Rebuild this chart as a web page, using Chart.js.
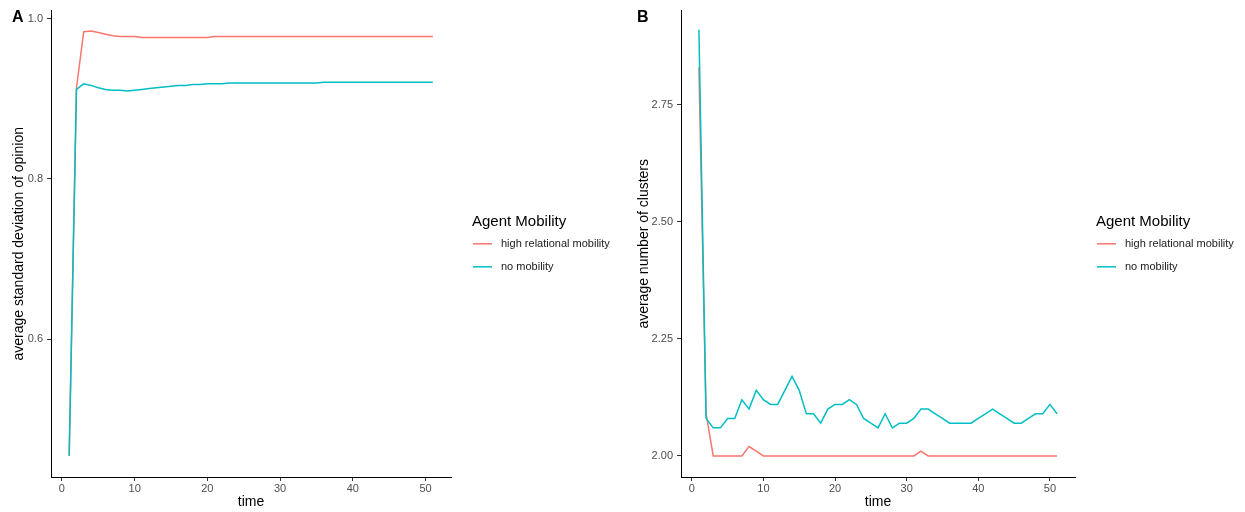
<!DOCTYPE html>
<html>
<head>
<meta charset="utf-8">
<script src="https://cdn.jsdelivr.net/npm/chart.js@4"></script>
<style>
  body { margin: 0; background: #fff; }
  .panel { position: absolute; top: 0; }
</style>
</head>
<body>
<div class="panel" style="left:0px"><canvas id="chartA" width="640" height="512"></canvas></div>
<div class="panel" style="left:625px"><canvas id="chartB" width="620" height="512"></canvas></div>
<script>
// values
const time = [1, 2, 3, 4, 5, 6, 7, 8, 9, 10, 11, 12, 13, 14, 15, 16, 17, 18, 19, 20,
    21, 22, 23, 24, 25, 26, 27, 28, 29, 30, 31, 32, 33, 34, 35, 36, 37, 38, 39, 40,
    41, 42, 43, 44, 45, 46, 47, 48, 49, 50, 51];

const seriesNames = ["high relational mobility", "no mobility"];
const seriesColors = ["#F8766D", "#00BFC4"];

const sdHigh = [0.454, 0.914, 0.984, 0.985, 0.983, 0.981, 0.979, 0.978, 0.978, 0.978,
    0.977, 0.977, 0.977, 0.977, 0.977, 0.977, 0.977, 0.977, 0.977, 0.977,
    0.978, 0.978, 0.978, 0.978, 0.978, 0.978, 0.978, 0.978, 0.978, 0.978,
    0.978, 0.978, 0.978, 0.978, 0.978, 0.978, 0.978, 0.978, 0.978, 0.978,
    0.978, 0.978, 0.978, 0.978, 0.978, 0.978, 0.978, 0.978, 0.978, 0.978, 0.978];
const sdNone = [0.454, 0.912, 0.919, 0.917, 0.914, 0.912, 0.911, 0.911, 0.910, 0.911,
    0.912, 0.913, 0.914, 0.915, 0.916, 0.917, 0.917, 0.918, 0.918, 0.919,
    0.919, 0.919, 0.920, 0.920, 0.920, 0.920, 0.920, 0.920, 0.920, 0.920,
    0.920, 0.920, 0.920, 0.920, 0.920, 0.921, 0.921, 0.921, 0.921, 0.921,
    0.921, 0.921, 0.921, 0.921, 0.921, 0.921, 0.921, 0.921, 0.921, 0.921, 0.921];

const clHigh = [2.83, 2.09, 2.00, 2.00, 2.00, 2.00, 2.00, 2.02, 2.01, 2.00,
    2.00, 2.00, 2.00, 2.00, 2.00, 2.00, 2.00, 2.00, 2.00, 2.00,
    2.00, 2.00, 2.00, 2.00, 2.00, 2.00, 2.00, 2.00, 2.00, 2.00,
    2.00, 2.01, 2.00, 2.00, 2.00, 2.00, 2.00, 2.00, 2.00, 2.00,
    2.00, 2.00, 2.00, 2.00, 2.00, 2.00, 2.00, 2.00, 2.00, 2.00, 2.00];
const clNone = [2.91, 2.08, 2.06, 2.06, 2.08, 2.08, 2.12, 2.10, 2.14, 2.12,
    2.11, 2.11, 2.14, 2.17, 2.14, 2.09, 2.09, 2.07, 2.10, 2.11,
    2.11, 2.12, 2.11, 2.08, 2.07, 2.06, 2.09, 2.06, 2.07, 2.07,
    2.08, 2.10, 2.10, 2.09, 2.08, 2.07, 2.07, 2.07, 2.07, 2.08,
    2.09, 2.10, 2.09, 2.08, 2.07, 2.07, 2.08, 2.09, 2.09, 2.11, 2.09];

const xTicks = [0, 10, 20, 30, 40, 50];
const yTicksA = [0.6, 0.8, 1.0];
const yTicksB = [2.00, 2.25, 2.50, 2.75];

const FONT = "'Liberation Sans', Arial, sans-serif";

// legend + panel tag, drawn the ggplot way
const ggExtras = {
    id: "ggExtras",
    afterDraw(chart, args, opts) {
        const ctx = chart.ctx;
        const area = chart.chartArea;
        ctx.save();
        ctx.fillStyle = "#000";
        ctx.textBaseline = "middle";
        ctx.font = "bold 16px " + FONT;
        ctx.fillText(opts.tag, 12, 18);

        const lx = area.right + opts.legendGap;
        const cy = (area.top + area.bottom) / 2;
        ctx.font = "15px " + FONT;
        ctx.fillText("Agent Mobility", lx, cy - 22);
        ctx.font = "11px " + FONT;
        seriesNames.forEach((name, i) => {
            const y = cy + i * 23;
            ctx.strokeStyle = seriesColors[i];
            ctx.lineWidth = 1.5;
            ctx.beginPath();
            ctx.moveTo(lx + 1, y);
            ctx.lineTo(lx + 20, y);
            ctx.stroke();
            ctx.fillStyle = "#1a1a1a";
            ctx.fillText(name, lx + 29, y);
        });
        ctx.restore();
    }
};

function makeChart(id, tag, high, none, yMin, yMax, yTicks, yTitle, yDigits, axisWidth, padRight) {
    const pts = arr => arr.map((v, i) => ({ x: time[i], y: v }));
    return new Chart(document.getElementById(id), {
        type: "line",
        data: {
            datasets: [
                { label: seriesNames[0], data: pts(high), borderColor: seriesColors[0],
                  borderWidth: 1.5, pointRadius: 0, tension: 0, order: 2 },
                { label: seriesNames[1], data: pts(none), borderColor: seriesColors[1],
                  borderWidth: 1.5, pointRadius: 0, tension: 0, order: 1 }
            ]
        },
        options: {
            responsive: false,
            animation: false,
            layout: { padding: { top: 10, right: padRight, bottom: 0, left: 0 } },
            plugins: {
                legend: { display: false },
                tooltip: { enabled: false },
                ggExtras: { tag: tag, legendGap: 21 }
            },
            scales: {
                x: {
                    type: "linear",
                    min: -1.5,
                    max: 53.5,
                    afterBuildTicks: s => { s.ticks = xTicks.map(v => ({ value: v })); },
                    afterFit: s => { s.height = 35; },
                    grid: { drawOnChartArea: false, drawTicks: true, tickLength: 4, color: "#333" },
                    border: { display: true, color: "#000", width: 1 },
                    ticks: { padding: 1, color: "#4d4d4d", font: { family: FONT, size: 11 },
                             maxRotation: 0, callback: v => String(v) },
                    title: { display: true, text: "time", color: "#000",
                             font: { family: FONT, size: 14 }, padding: { top: 0, bottom: 1 } }
                },
                y: {
                    type: "linear",
                    min: yMin,
                    max: yMax,
                    afterBuildTicks: s => { s.ticks = yTicks.map(v => ({ value: v })); },
                    afterFit: s => { s.width = axisWidth; },
                    grid: { drawOnChartArea: false, drawTicks: true, tickLength: 4, color: "#333" },
                    border: { display: true, color: "#000", width: 1 },
                    ticks: { padding: 4, color: "#4d4d4d", font: { family: FONT, size: 11 },
                             callback: v => v.toFixed(yDigits) },
                    title: { display: true, text: yTitle, color: "#000",
                             font: { family: FONT, size: 14 }, padding: { top: 11, bottom: 0 } }
                }
            }
        },
        plugins: [ggExtras]
    });
}

makeChart("chartA", "A", sdHigh, sdNone, 0.4275, 1.0105, yTicksA,
    "average standard deviation of opinion", 1, 51, 189);
makeChart("chartB", "B", clHigh, clNone, 1.955, 2.951, yTicksB,
    "average number of clusters", 2, 56, 170);
</script>
</body>
</html>
